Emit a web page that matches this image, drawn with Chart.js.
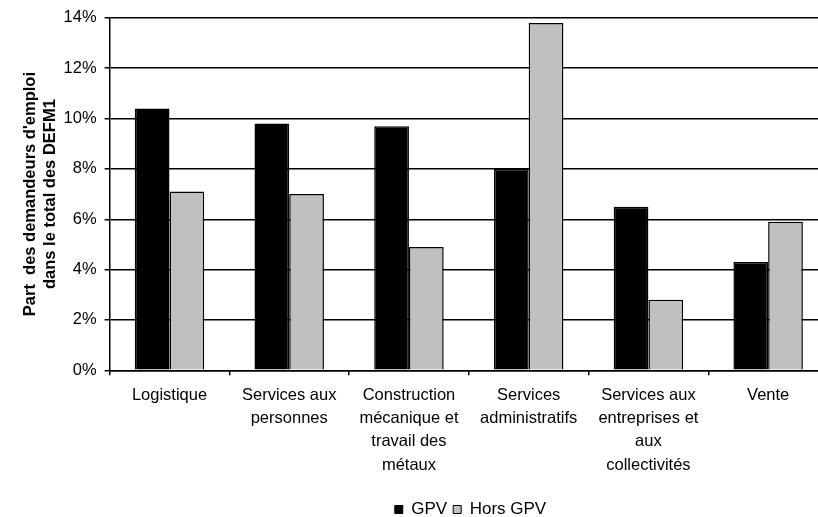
<!DOCTYPE html>
<html>
<head>
<meta charset="utf-8">
<script src="https://cdn.jsdelivr.net/npm/chart.js@4/dist/chart.umd.min.js"></script>
<style>
  html, body { margin: 0; padding: 0; background: #fff; overflow: hidden; }
  #wrap { width: 938px; height: 517px; }
</style>
</head>
<body>
<div id="wrap"><canvas id="chart" width="938" height="517"></canvas></div>
<script>
// categories (x labels, wrapped like the original)
var categories = [
  ['Logistique'],
  ['Services aux', 'personnes'],
  ['Construction', 'mécanique et', 'travail des', 'métaux'],
  ['Services', 'administratifs'],
  ['Services aux', 'entreprises et', 'aux', 'collectivités'],
  ['Vente']
];
// values in %
var gpv = [10.4, 9.8, 9.7, 8.0, 6.5, 4.3];
var horsGpv = [7.1, 7.0, 4.9, 13.8, 2.8, 5.9];
var yTicks = [0, 2, 4, 6, 8, 10, 12, 14];

var font = "'Liberation Sans', Arial, sans-serif";

// nudge the legend to where the original has it
var legendShift = {
  id: 'legendShift',
  afterLayout: function (chart) {
    var lg = chart.legend;
    lg.left += 46; lg.right += 46;
    lg.top += 10; lg.bottom += 10;
  }
};

var ctx = document.getElementById('chart').getContext('2d');
var chart = new Chart(ctx, {
  type: 'bar',
  data: {
    labels: categories,
    datasets: [
      {
        label: 'GPV',
        data: gpv,
        backgroundColor: '#000000',
        borderColor: '#000000',
        borderWidth: 1.5
      },
      {
        label: 'Hors GPV',
        data: horsGpv,
        backgroundColor: '#c0c0c0',
        borderColor: '#000000',
        borderWidth: 1.5
      }
    ]
  },
  plugins: [legendShift],
  options: {
    responsive: false,
    animation: false,
    layout: { padding: { top: 13, right: 110, left: 21, bottom: -1 } },
    categoryPercentage: 0.58,
    barPercentage: 1.0,
    plugins: {
      tooltip: { enabled: false },
      legend: {
        position: 'bottom',
        labels: {
          color: '#000',
          font: { family: font, size: 17 },
          boxWidth: 8,
          boxHeight: 8,
          padding: 6,
          generateLabels: function (c) {
            return c.data.datasets.map(function (ds, i) {
              return {
                text: ds.label,
                fillStyle: ds.backgroundColor,
                strokeStyle: '#000',
                lineWidth: 1,
                datasetIndex: i
              };
            });
          }
        }
      }
    },
    scales: {
      x: {
        grid: {
          display: true,
          offset: true,
          drawOnChartArea: false,
          drawTicks: true,
          tickLength: 5,
          color: '#000',
          lineWidth: 1.5
        },
        border: { display: true, color: '#000', width: 1.5 },
        ticks: {
          color: '#000',
          font: { family: font, size: 16.5, lineHeight: 1.42 },
          maxRotation: 0,
          autoSkip: false,
          padding: 8
        }
      },
      y: {
        min: 0,
        max: 14,
        afterBuildTicks: function (axis) {
          axis.ticks = yTicks.map(function (v) { return { value: v }; });
        },
        grid: {
          color: '#000',
          lineWidth: 1.5,
          drawTicks: true,
          tickLength: 5
        },
        border: { display: true, color: '#000', width: 1.5 },
        ticks: {
          color: '#000',
          font: { family: font, size: 16.5 },
          padding: 8,
          callback: function (v) { return v + '%'; }
        },
        title: {
          display: true,
          text: ["Part  des demandeurs d'emploi", 'dans le total des DEFM1'],
          color: '#000',
          font: { family: font, size: 16.5, weight: 'bold', lineHeight: 1.2 },
          padding: { top: 0, bottom: -5 }
        }
      }
    }
  }
});
</script>
</body>
</html>
